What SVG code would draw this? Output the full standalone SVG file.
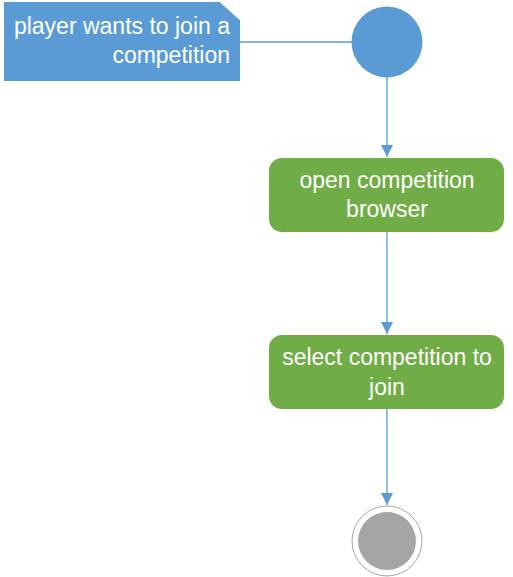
<svg xmlns="http://www.w3.org/2000/svg" width="513" height="577" viewBox="0 0 513 577">
<defs>
<style>
.lbl{font-family:"Liberation Sans",Arial,sans-serif;font-size:23px;fill:#ffffff}
.conn{stroke:#5B9BD5;stroke-width:1.3;fill:none}
.act{fill:#70AD47}
</style>
<marker id="arr" markerWidth="14" markerHeight="14" refX="12" refY="6" orient="auto" markerUnits="userSpaceOnUse">
<path d="M0,0 L12,6 L0,12 Z" fill="#5B9BD5"/>
</marker>
</defs>
<rect width="513" height="577" fill="#ffffff"/>
<g id="connectors">
<line class="conn" x1="240" y1="42" x2="352" y2="42"/>
<line class="conn" x1="387" y1="77" x2="387" y2="157" marker-end="url(#arr)"/>
<line class="conn" x1="387" y1="232" x2="387" y2="334" marker-end="url(#arr)"/>
<line class="conn" x1="387" y1="409" x2="387" y2="505" marker-end="url(#arr)"/>
</g>
<g id="note">
<path d="M4,2 L220,2 L240,20 L240,81 L4,81 Z" fill="#5B9BD5"/>
<path d="M220,2 L240,20" stroke="#DDE8F3" stroke-width="1" fill="none"/>
<text class="lbl" text-anchor="end" x="230" y="34">player wants to join a</text>
<text class="lbl" text-anchor="end" x="230" y="63">competition</text>
</g>
<g id="start">
<circle cx="387" cy="42" r="35.5" fill="#5B9BD5"/>
</g>
<g id="open">
<rect class="act" x="269" y="158" width="235" height="74" rx="13"/>
<text class="lbl" text-anchor="middle" x="387" y="188">open competition</text>
<text class="lbl" text-anchor="middle" x="387" y="217">browser</text>
</g>
<g id="select">
<rect class="act" x="269" y="335" width="235" height="74" rx="13"/>
<text class="lbl" text-anchor="middle" x="387" y="365">select competition to</text>
<text class="lbl" text-anchor="middle" x="387" y="395">join</text>
</g>
<g id="end">
<circle cx="387" cy="541" r="35" fill="#ffffff" stroke="#A5A5A5" stroke-width="1"/>
<circle cx="387" cy="541" r="29" fill="#A5A5A5"/>
</g>
</svg>
